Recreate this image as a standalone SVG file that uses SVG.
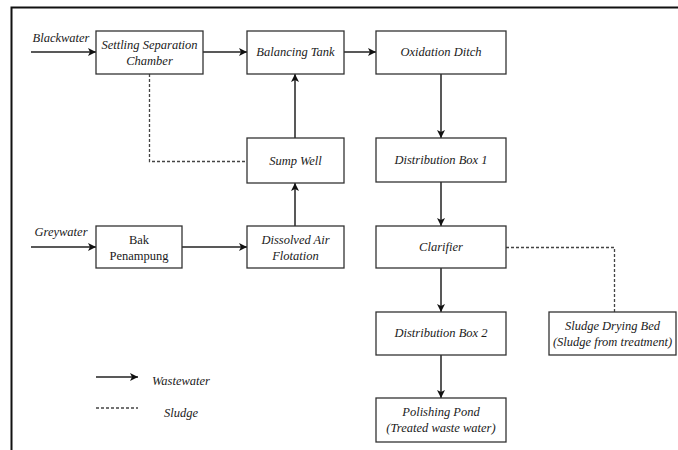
<svg xmlns="http://www.w3.org/2000/svg" width="678" height="450" viewBox="0 0 678 450">
<defs>
<marker id="ah" viewBox="0 0 10 10" refX="10" refY="5" markerWidth="8" markerHeight="8" markerUnits="userSpaceOnUse" orient="auto">
<path d="M0,0 L10,5 L0,10 L2.5,5 Z" fill="#111"/>
</marker>
<style>
.box{fill:#fff;stroke:#333;stroke-width:1.3}
.t{font-size:12.5px;font-style:italic;fill:#1a1a1a;text-anchor:middle}
.u{font-style:normal}
.w{fill:none;stroke:#222;stroke-width:1.5;marker-end:url(#ah)}
.s{fill:none;stroke:#444;stroke-width:1.3;stroke-dasharray:3,2}
</style>
</defs>
<rect width="678" height="450" fill="#fff"/>
<path d="M11.5,450 V7.5 H678" fill="none" stroke="#111" stroke-width="2"/>

<g id="connectors">
<line class="w" x1="31" y1="52" x2="96" y2="52"/>
<line class="w" x1="203" y1="52" x2="247" y2="52"/>
<line class="w" x1="344" y1="52" x2="376" y2="52"/>
<line class="w" x1="295" y1="138" x2="295" y2="74"/>
<line class="w" x1="295" y1="226" x2="295" y2="183"/>
<line class="w" x1="182" y1="247" x2="247" y2="247"/>
<line class="w" x1="31" y1="247" x2="96" y2="247"/>
<line class="w" x1="441" y1="74" x2="441" y2="138"/>
<line class="w" x1="441" y1="182" x2="441" y2="226"/>
<line class="w" x1="441" y1="268" x2="441" y2="312"/>
<line class="w" x1="441" y1="355" x2="441" y2="398"/>
<path class="s" d="M149.5,74 V161.5 H247"/>
<path class="s" d="M506,247.5 H614.5 V312"/>
</g>

<g font-family="'Liberation Serif', 'Times New Roman', serif">
<text class="t" x="61" y="42">Blackwater</text>
<text class="t" x="61" y="236">Greywater</text>

<g id="ssc"><rect class="box" x="96" y="31" width="107" height="43"/>
<text class="t" x="149.5" y="49">Settling Separation</text><text class="t" x="149.5" y="65">Chamber</text></g>
<g id="bt"><rect class="box" x="247" y="31" width="97" height="43"/>
<text class="t" x="295.5" y="56">Balancing Tank</text></g>
<g id="od"><rect class="box" x="376" y="31" width="130" height="43"/>
<text class="t" x="441" y="56">Oxidation Ditch</text></g>
<g id="sw"><rect class="box" x="247" y="138" width="97" height="45"/>
<text class="t" x="295.5" y="165">Sump Well</text></g>
<g id="bak"><rect class="box" x="96" y="226" width="86" height="42"/>
<text class="t u" x="139" y="244">Bak</text><text class="t u" x="139" y="260">Penampung</text></g>
<g id="daf"><rect class="box" x="247" y="226" width="97" height="42"/>
<text class="t" x="295.5" y="244">Dissolved Air</text><text class="t" x="295.5" y="260">Flotation</text></g>
<g id="db1"><rect class="box" x="376" y="138" width="130" height="44"/>
<text class="t" x="441" y="164">Distribution Box 1</text></g>
<g id="cl"><rect class="box" x="376" y="226" width="130" height="42"/>
<text class="t" x="441" y="251">Clarifier</text></g>
<g id="db2"><rect class="box" x="376" y="312" width="130" height="43"/>
<text class="t" x="441" y="337">Distribution Box 2</text></g>
<g id="pp"><rect class="box" x="376" y="398" width="130" height="44"/>
<text class="t" x="441" y="416">Polishing Pond</text><text class="t" x="441" y="432">(Treated waste water)</text></g>
<g id="sdb"><rect class="box" x="549" y="312" width="127" height="43"/>
<text class="t" x="612.5" y="330">Sludge Drying Bed</text><text class="t" x="612.5" y="346">(Sludge from treatment)</text></g>

<g id="legend">
<line class="w" x1="96" y1="377" x2="138" y2="377"/>
<text class="t" x="181" y="385">Wastewater</text>
<line class="s" x1="96" y1="408" x2="138" y2="408"/>
<text class="t" x="181" y="417">Sludge</text>
</g>
</g>
</svg>
